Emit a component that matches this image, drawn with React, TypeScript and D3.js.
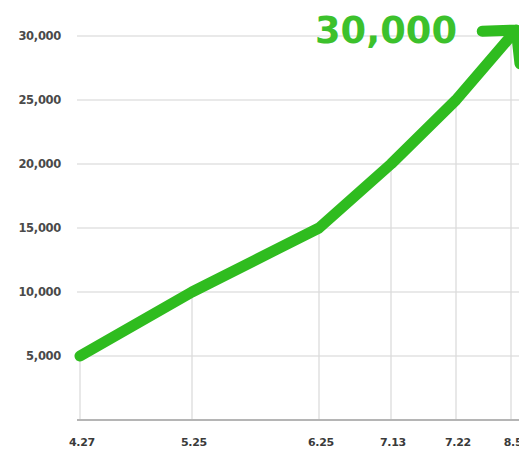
import React from "react";
import * as d3 from "d3";

const categories = ["4.27", "5.25", "6.25", "7.13", "7.22", "8.5"];
const xSpacing = [0, 112, 239, 311, 376, 431];
const values = [5000, 10000, 15000, 20000, 25000, 30000];
const yTicks = [5000, 10000, 15000, 20000, 25000, 30000];
const headline = "30,000";

const W = 519;
const H = 450;
const GREEN = "#2fbc1f";

export default function App() {
  const x = d3.scaleLinear().domain([0, 431]).range([80, 511]);
  const y = d3.scaleLinear().domain([0, 30000]).range([420, 36]);
  const pts: [number, number][] = values.map((v, i) => [x(xSpacing[i]), y(v)]);
  const line = d3.line<[number, number]>().x((d) => d[0]).y((d) => d[1]);

  const last = pts[pts.length - 1];
  const prev = pts[pts.length - 2];
  const dx = last[0] - prev[0];
  const dy = last[1] - prev[1];
  const len = Math.hypot(dx, dy);
  const ux = dx / len;
  const uy = dy / len;
  const tip: [number, number] = [last[0] + ux * 8, last[1] + uy * 8];
  const back = Math.atan2(-uy, -ux);
  const arm = 34;
  const a = (47 * Math.PI) / 180;
  const arm1: [number, number] = [tip[0] + arm * Math.cos(back + a), tip[1] + arm * Math.sin(back + a)];
  const arm2: [number, number] = [tip[0] + arm * Math.cos(back - a), tip[1] + arm * Math.sin(back - a)];

  const font = "'DejaVu Sans', sans-serif";

  return (
    <svg width={W} height={H} style={{ position: "absolute", left: 0, top: 0, background: "#fff" }}>
      {yTicks.map((t) => (
        <g key={t}>
          <line x1={77} x2={W} y1={y(t)} y2={y(t)} stroke="#e2e2e2" strokeWidth={1.3} />
          <text
            x={61}
            y={y(t)}
            textAnchor="end"
            dominantBaseline="middle"
            fontFamily={font}
            fontWeight="bold"
            fontSize={11.5}
            fill="#4a4a4a"
            letterSpacing={-0.3}
          >
            {d3.format(",")(t)}
          </text>
        </g>
      ))}
      {pts.map((p, i) => (
        <line key={"v" + i} x1={p[0]} x2={p[0]} y1={p[1]} y2={420} stroke="#dcdcdc" strokeWidth={1.3} />
      ))}
      <line x1={77} x2={W} y1={420} y2={420} stroke="#b5b5b5" strokeWidth={2} />
      {categories.map((c, i) => (
        <text
          key={c}
          x={x(xSpacing[i]) + 2}
          y={446}
          textAnchor="middle"
          fontFamily={font}
          fontWeight="bold"
          fontSize={11}
          fill="#3a3a3a"
          letterSpacing={-0.3}
        >
          {c}
        </text>
      ))}
      <path
        d={line(pts) || ""}
        fill="none"
        stroke={GREEN}
        strokeWidth={11}
        strokeLinecap="round"
        strokeLinejoin="round"
      />
      <path
        d={`M${last[0]},${last[1]}L${tip[0]},${tip[1]}M${arm1[0]},${arm1[1]}L${tip[0]},${tip[1]}L${arm2[0]},${arm2[1]}`}
        fill="none"
        stroke={GREEN}
        strokeWidth={11}
        strokeLinecap="round"
        strokeLinejoin="round"
      />
      <text
        x={315}
        y={43}
        fontFamily={font}
        fontWeight="bold"
        fontSize={37}
        fill="#3cc12c"
        textLength={142}
        lengthAdjust="spacingAndGlyphs"
      >
        {headline}
      </text>
    </svg>
  );
}
